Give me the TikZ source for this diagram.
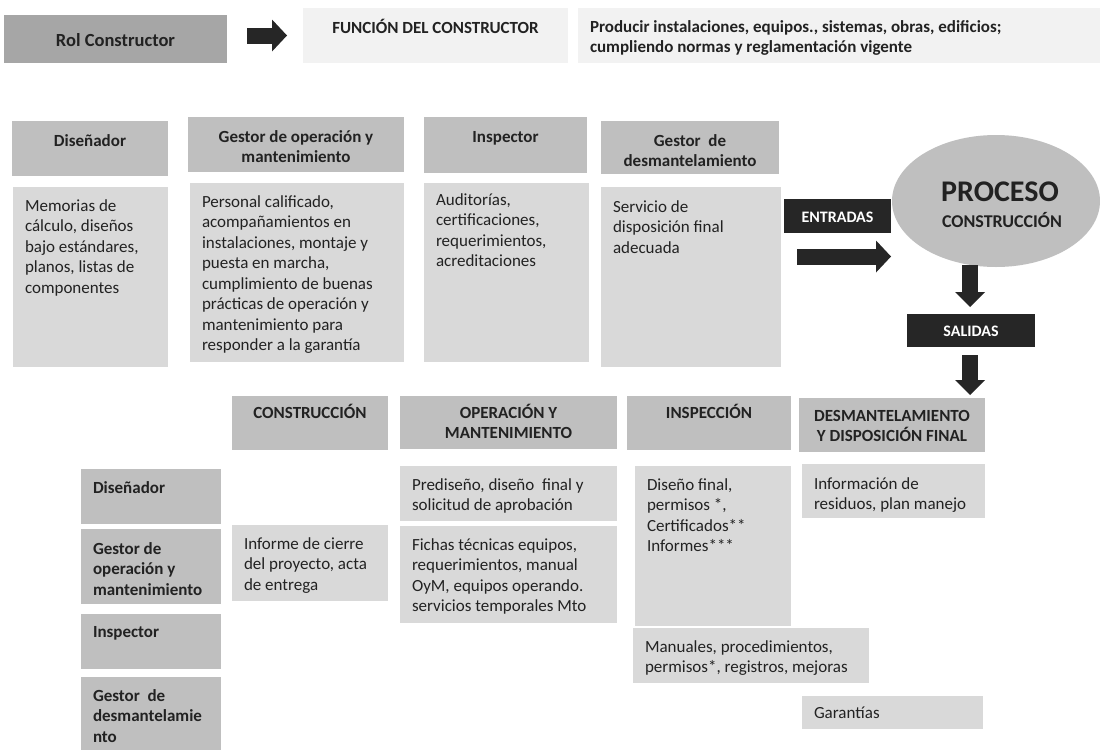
\documentclass[tikz,border=0pt]{standalone}
\usepackage{fontspec}
\setmainfont{Carlito}
\usetikzlibrary{shapes.geometric,arrows.meta,calc}
\definecolor{rolc}{HTML}{A6A6A6}
\definecolor{hdrc}{HTML}{BFBFBF}
\definecolor{cntc}{HTML}{D9D9D9}
\definecolor{topc}{HTML}{F2F2F2}
\definecolor{dkc}{HTML}{262626}
\definecolor{txtc}{HTML}{222222}
\newcommand\bx[8]{\node[#1, inner xsep=12pt, inner ysep=0pt, outer sep=0pt, anchor=north west] (#2) at (#3,#4) {\parbox[t][#6pt][t]{\dimexpr #5pt-24pt\relax}{\raggedright\rule{0pt}{#7pt}#8}};}
\tikzset{
  rolbox/.style={fill=rolc, text=txtc, font=\bfseries\fontsize{18.5}{20.5}\selectfont},
  topbox/.style={fill=topc, text=txtc, font=\bfseries\fontsize{17}{20.5}\selectfont},
  hdrbox/.style={fill=hdrc, text=txtc, font=\bfseries\fontsize{17}{20.5}\selectfont},
  cntbox/.style={fill=cntc, text=txtc, font=\fontsize{17}{20.5}\selectfont},
  dkbox/.style={fill=dkc, text=white, font=\bfseries\fontsize{16}{20}\selectfont},
  blkh/.style={draw=dkc, line width=16pt, -{Triangle[length=15pt 0, width=32pt 0, line width=0pt 0 0]}},
  blkv/.style={draw=dkc, line width=16pt, -{Triangle[length=15pt 0, width=30pt 0, line width=0pt 0 0]}},
}
\begin{document}
\begin{tikzpicture}[x=1pt,y=-1pt]
\useasboundingbox (0,0) rectangle (1100,750);
\fill[white] (0,0) rectangle (1100,750);
% top row
\bx{rolbox}{rol}{4}{15}{223}{48}{31}{\centering Rol Constructor}
\bx{topbox}{fun}{303}{8}{265}{55}{25}{\centering FUNCIÓN DEL CONSTRUCTOR}
\bx{topbox}{prod}{578}{8}{522}{55}{24}{Producir instalaciones, equipos., sistemas, obras, edificios;\\cumpliendo normas y reglamentación vigente}
\draw[blkh] ($(fun.west)+(-56,0)$) -- ($(fun.west)+(-16,0)$);
% upper headers
\bx{hdrbox}{dis1}{12}{121}{156}{55}{25}{\centering Diseñador}
\bx{hdrbox}{gom1}{188}{117}{216}{55}{25}{\centering Gestor de operación y\\mantenimiento}
\bx{hdrbox}{ins1}{424}{117}{163}{56}{25}{\centering Inspector}
\bx{hdrbox}{gde1}{601}{121}{178}{53}{25}{\centering Gestor~ de\\desmantelamiento}
% upper contents
\bx{cntbox}{dis1c}{13}{187}{155}{180}{24}{Memorias de\\cálculo, diseños\\bajo estándares,\\planos, listas de\\componentes}
\bx{cntbox}{gom1c}{190}{183}{214}{179}{24}{Personal calificado,\\acompañamientos en\\instalaciones, montaje y\\puesta en marcha,\\cumplimiento de buenas\\prácticas de operación y\\mantenimiento para\\responder a la garantía}
\bx{cntbox}{ins1c}{424}{183}{165}{179}{22}{Auditorías,\\certificaciones,\\requerimientos,\\acreditaciones}
\bx{cntbox}{gde1c}{601}{187}{180}{180}{25}{Servicio de\\disposición final\\adecuada}
% process
\bx{dkbox}{ent}{784}{199}{107}{34}{23}{\centering ENTRADAS}
\node[ellipse, fill=hdrc, minimum width=208pt, minimum height=132pt, inner sep=0pt] (proc) at (996,201) {};
\node[anchor=base, inner sep=0pt, text=txtc, font=\bfseries\fontsize{30}{30}\selectfont] (proct) at (1000,201) {PROCESO};
\node[anchor=base, inner sep=0pt, text=txtc, font=\bfseries\fontsize{18}{20}\selectfont] (procs) at (1002,227) {CONSTRUCCIÓN};
\bx{dkbox}{sal}{907}{314}{128}{33}{22}{\centering SALIDAS}
\draw[blkh] ($(ent.south west)+(13,23.5)$) -- ($(ent.south east)+(0,23.5)$);
% bottom headers
\bx{hdrbox}{con}{232}{396}{156}{54}{22}{\centering CONSTRUCCIÓN}
\bx{hdrbox}{oym}{400}{396}{217}{53}{22}{\centering OPERACIÓN Y\\MANTENIMIENTO}
\bx{hdrbox}{insp}{627}{396}{164}{54}{22}{\centering INSPECCIÓN}
\bx{hdrbox}{desm}{799}{398}{186}{54}{23}{\centering DESMANTELAMIENTO\\Y DISPOSICIÓN FINAL}
\draw[blkv] ($(proc.south)+(-26,-2)$) -- ($(sal.north)+(-1,-7)$);
\draw[blkv] ($(sal.south)+(-1,8)$) -- ($(desm.north)+(78,-3)$);
% left headers
\bx{hdrbox}{ldis}{81}{469}{140}{55}{24}{Diseñador}
\bx{hdrbox}{lgom}{81}{529}{140}{75}{25}{Gestor de\\operación y\\mantenimiento}
\bx{hdrbox}{lins}{81}{614}{140}{55}{23}{Inspector}
\bx{hdrbox}{lgde}{81}{677}{140}{73}{24}{Gestor~ de\\desmantelamie\\nto}
% bottom contents
\bx{cntbox}{inf}{232}{525}{156}{76}{24}{Informe de cierre\\del proyecto, acta\\de entrega}
\bx{cntbox}{pre}{400}{466}{217}{55}{24}{Prediseño, diseño~ final y\\solicitud de aprobación}
\bx{cntbox}{fic}{400}{526}{217}{97}{24}{Fichas técnicas equipos,\\requerimientos, manual\\OyM, equipos operando.\\servicios temporales Mto}
\bx{cntbox}{dfin}{635}{466}{156}{160}{24}{Diseño final,\\permisos *,\\Certificados**\\Informes***}
\bx{cntbox}{infr}{802}{464}{183}{54}{25}{Información de\\residuos, plan manejo}
\bx{cntbox}{man}{633}{628}{236}{55}{24}{Manuales, procedimientos,\\permisos*, registros, mejoras}
\bx{cntbox}{gar}{802}{696}{181}{33}{22}{Garantías}
\end{tikzpicture}
\end{document}
